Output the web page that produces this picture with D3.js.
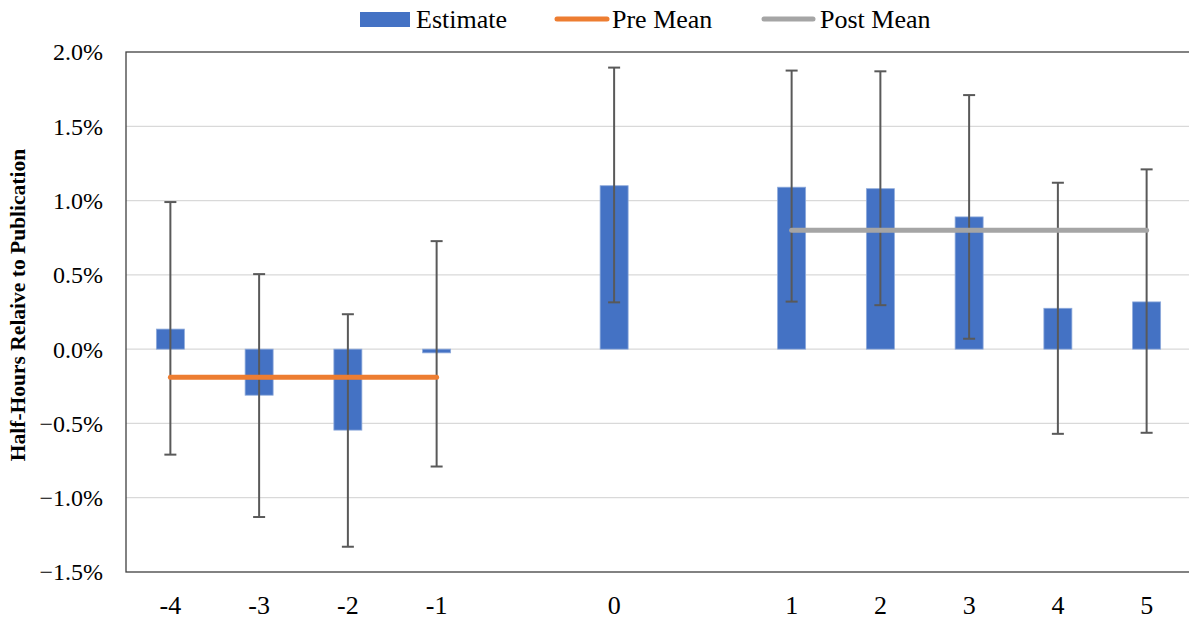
<!DOCTYPE html>
<html>
<head>
<meta charset="utf-8">
<script src="https://cdn.jsdelivr.net/npm/d3@7"></script>
<style>
  body { margin: 0; background: #fff; }
  text { font-family: "Liberation Serif", "Times New Roman", serif; fill: #000; }
</style>
</head>
<body>
<svg id="chart" width="1189" height="619"></svg>
<script>
// category slots on the x axis (empty slots are gaps in the original chart)
var slots = ["-4", "-3", "-2", "-1", "gap1", "0", "gap2", "1", "2", "3", "4", "5"];
var periods = ["-4", "-3", "-2", "-1", "0", "1", "2", "3", "4", "5"];
var estimate = [0.135, -0.31, -0.545, -0.025, 1.10, 1.09, 1.08, 0.89, 0.275, 0.318];
var ciLow = [-0.71, -1.13, -1.33, -0.79, 0.315, 0.32, 0.296, 0.07, -0.57, -0.563];
var ciHigh = [0.99, 0.505, 0.235, 0.727, 1.895, 1.875, 1.87, 1.71, 1.12, 1.21];
var preMean = { from: "-4", to: "-1", value: -0.19 };
var postMean = { from: "1", to: "5", value: 0.80 };
var yTicks = [-1.5, -1.0, -0.5, 0.0, 0.5, 1.0, 1.5, 2.0];

var svg = d3.select("#chart");
var margin = { top: 52, right: -2, bottom: 47, left: 126 },
    width = 1189 - margin.left - margin.right,
    height = 619 - margin.top - margin.bottom;

var x = d3.scaleBand().domain(slots).range([0, width]);
var y = d3.scaleLinear().domain([-1.5, 2.0]).range([height, 0]);
var barW = 28;

var g = svg.append("g")
    .attr("transform", "translate(" + margin.left + "," + margin.top + ")");

// gridlines
g.selectAll(".grid")
    .data(yTicks.filter(function (d) { return d > -1.5 && d < 2.0; }))
    .enter().append("line")
    .attr("x1", 0).attr("x2", width)
    .attr("y1", function (d) { return y(d); })
    .attr("y2", function (d) { return y(d); })
    .attr("stroke", "#d9d9d9")
    .attr("stroke-width", 1.3);

// frame
g.append("rect")
    .attr("x", 0).attr("y", 0)
    .attr("width", width).attr("height", height)
    .attr("fill", "none")
    .attr("stroke", "#404040")
    .attr("stroke-width", 1.3);

// y tick labels
g.selectAll(".ylab")
    .data(yTicks)
    .enter().append("text")
    .attr("x", -23)
    .attr("y", function (d) { return y(d); })
    .attr("dy", "0.35em")
    .attr("text-anchor", "end")
    .style("font-size", "24px")
    .text(function (d) { return d3.format(".1f")(d) + "%"; });

// x tick labels
var xAxis = d3.axisBottom(x)
    .tickSize(0)
    .tickFormat(function (d) { return d.indexOf("gap") === 0 ? "" : d; });
var gX = g.append("g")
    .attr("transform", "translate(0," + height + ")")
    .call(xAxis);
gX.select(".domain").remove();
gX.selectAll("text")
    .attr("y", 24)
    .attr("dy", "0.71em")
    .style("font-size", "26px")
    .style("font-family", "Liberation Serif, Times New Roman, serif")
    .attr("fill", "#000");

var cx = function (p) { return x(p) + x.bandwidth() / 2; };

// bars
g.selectAll(".bar")
    .data(periods)
    .enter().append("rect")
    .attr("class", "bar")
    .attr("x", function (p) { return cx(p) - barW / 2; })
    .attr("y", function (p, i) { return y(Math.max(0, estimate[i])); })
    .attr("width", barW)
    .attr("height", function (p, i) { return Math.abs(y(estimate[i]) - y(0)); })
    .attr("fill", "#4472c4")
    .attr("stroke", "#8eaadb")
    .attr("stroke-width", 0.8);

// error bars
var eb = g.selectAll(".err")
    .data(periods)
    .enter().append("g")
    .attr("stroke", "#595959")
    .attr("stroke-width", 2);
eb.append("line")
    .attr("x1", cx).attr("x2", cx)
    .attr("y1", function (p, i) { return y(ciLow[i]); })
    .attr("y2", function (p, i) { return y(ciHigh[i]); });
eb.append("line")
    .attr("x1", function (p) { return cx(p) - 6; })
    .attr("x2", function (p) { return cx(p) + 6; })
    .attr("y1", function (p, i) { return y(ciHigh[i]); })
    .attr("y2", function (p, i) { return y(ciHigh[i]); });
eb.append("line")
    .attr("x1", function (p) { return cx(p) - 6; })
    .attr("x2", function (p) { return cx(p) + 6; })
    .attr("y1", function (p, i) { return y(ciLow[i]); })
    .attr("y2", function (p, i) { return y(ciLow[i]); });

// mean lines
[[preMean, "#ed7d31"], [postMean, "#a5a5a5"]].forEach(function (m) {
    g.append("line")
        .attr("x1", cx(m[0].from))
        .attr("x2", cx(m[0].to))
        .attr("y1", y(m[0].value))
        .attr("y2", y(m[0].value))
        .attr("stroke", m[1])
        .attr("stroke-width", 5)
        .attr("stroke-linecap", "round");
});

// y title
svg.append("text")
    .attr("transform", "translate(25,305) rotate(-90)")
    .attr("text-anchor", "middle")
    .style("font-size", "21.5px")
    .style("font-weight", "bold")
    .text("Half-Hours Relaive to Publication");

// legend
var leg = svg.append("g");
leg.append("rect")
    .attr("x", 360).attr("y", 12)
    .attr("width", 50).attr("height", 15)
    .attr("fill", "#4472c4");
leg.append("text").attr("x", 416).attr("y", 28)
    .style("font-size", "26px").text("Estimate");
leg.append("line")
    .attr("x1", 557).attr("x2", 607).attr("y1", 19).attr("y2", 19)
    .attr("stroke", "#ed7d31").attr("stroke-width", 5).attr("stroke-linecap", "round");
leg.append("text").attr("x", 612).attr("y", 28)
    .style("font-size", "26px").text("Pre Mean");
leg.append("line")
    .attr("x1", 764).attr("x2", 813).attr("y1", 19).attr("y2", 19)
    .attr("stroke", "#a5a5a5").attr("stroke-width", 5).attr("stroke-linecap", "round");
leg.append("text").attr("x", 820).attr("y", 28)
    .style("font-size", "26px").text("Post Mean");
</script>
</body>
</html>
